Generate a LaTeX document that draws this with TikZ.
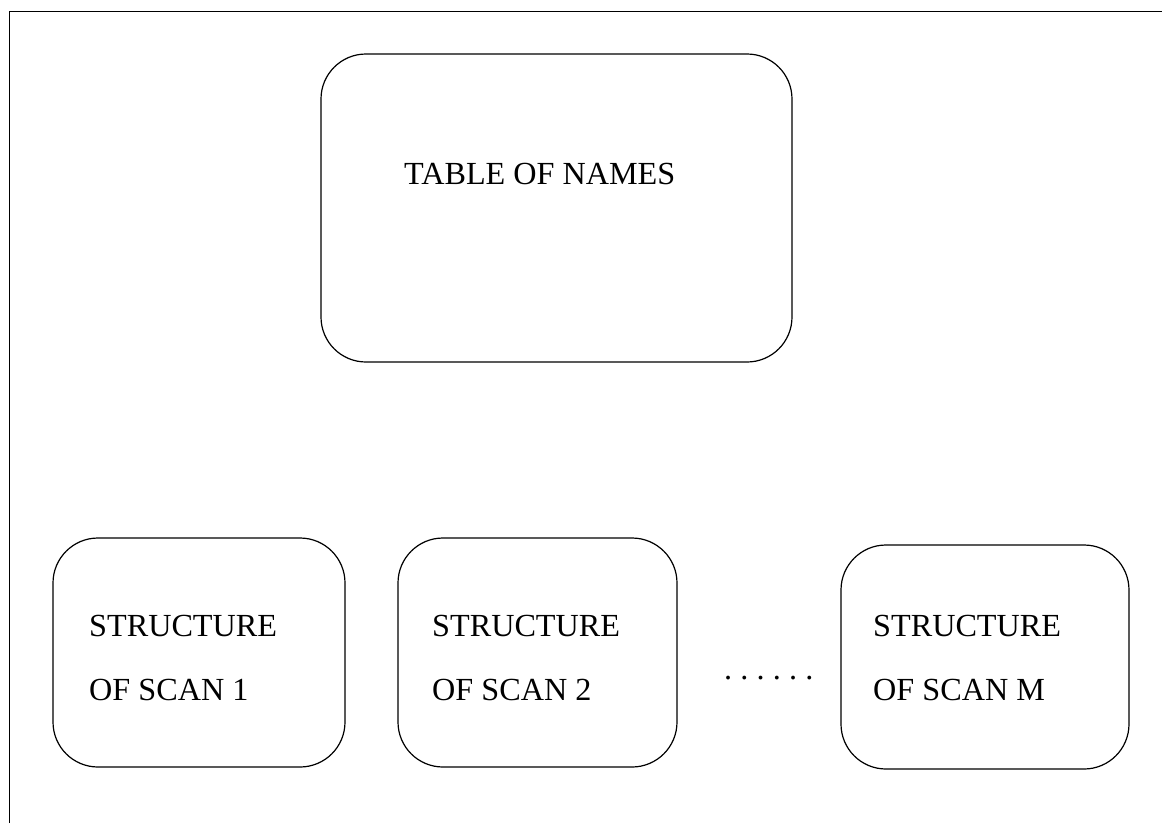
\documentclass[tikz,border=0pt]{standalone}
\usepackage{fontspec}
\setmainfont{Liberation Serif}
\begin{document}
\begin{tikzpicture}[x=1pt,y=-1pt,
  roundbox/.style={draw,line width=1.2pt,rounded corners=45pt},
  label/.style={anchor=base west,inner sep=0pt,font=\fontsize{32.2}{38}\selectfont}]
\useasboundingbox (0,0) rectangle (1162,823);
\coordinate (fbl) at (9,823);
\coordinate (ftl) at (9,11);
\coordinate (ftr) at (1162,11);
\draw[line width=1pt] (fbl) -- (ftl) -- (ftr);
\draw[roundbox] (321,54) rectangle (792,362);
\node[label] (tn) at (404,184) {TABLE OF NAMES};
\draw[roundbox] (53,538) rectangle (345,767);
\node[label] (s1a) at (89,636) {STRUCTURE};
\node[label] (s1b) at (89,700) {OF SCAN 1};
\draw[roundbox] (398,538) rectangle (677,767);
\node[label] (s2a) at (432,636) {STRUCTURE};
\node[label] (s2b) at (432,700) {OF SCAN 2};
\draw[roundbox] (841,545) rectangle (1129,769);
\node[label] (s3a) at (873,636) {STRUCTURE};
\node[label] (s3b) at (873,700) {OF SCAN M};
\node[label] (dots) at (724,679) {.\kern8.2pt.\kern8.2pt.\kern8.2pt.\kern8.2pt.\kern8.2pt.};
\end{tikzpicture}
\end{document}
